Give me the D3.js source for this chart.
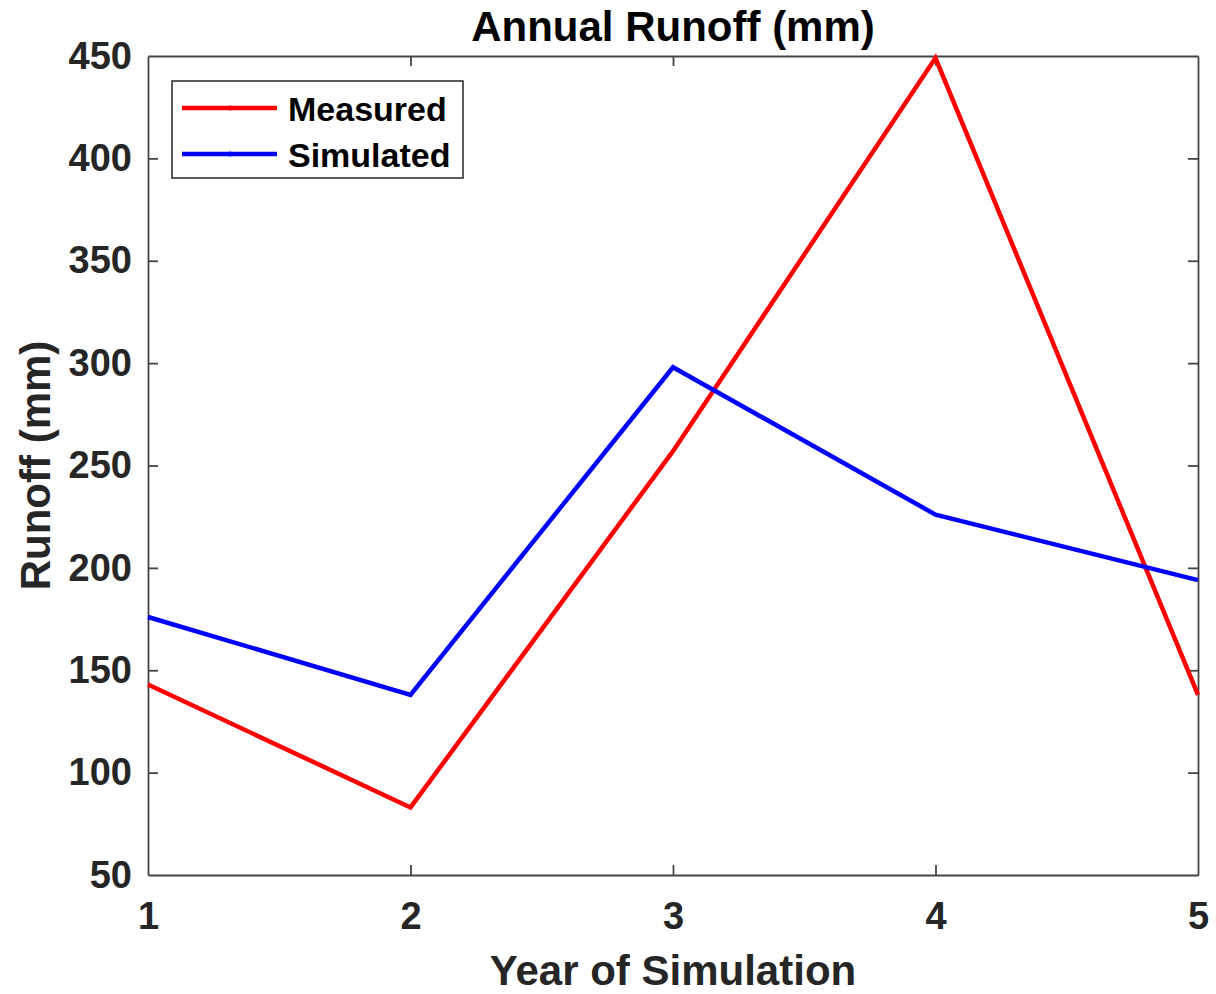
<!DOCTYPE html>
<html>
<head>
<meta charset="utf-8">
<script src="https://cdn.jsdelivr.net/npm/d3@7"></script>
<style>
  body { margin: 0; background: #fff; }
  text { font-family: "Liberation Sans", Arial, sans-serif; font-weight: bold; }
</style>
</head>
<body>
<svg id="chart" width="1216" height="994"></svg>
<script>
// data
const years = [1, 2, 3, 4, 5];
const measured = [143, 83, 257, 449, 138];
const simulated = [176, 138, 298, 226, 194];
const yTicks = [50, 100, 150, 200, 250, 300, 350, 400, 450];
const seriesNames = ['Measured', 'Simulated'];
const seriesColors = ['#ff0000', '#0000ff'];

const svg = d3.select('#chart');
const plotLeft = 148, plotRight = 1198, plotTop = 56, plotBottom = 875;

const x = d3.scaleLinear().domain([1, 5]).range([plotLeft, plotRight]);
const y = d3.scaleLinear().domain([50, 450]).range([plotBottom, plotTop]);

const axisColor = '#262626';
const tickLen = 10;

// axes, MATLAB-style box with inward ticks
const gx = svg.append('g').attr('transform', 'translate(0,' + plotBottom + ')')
  .call(d3.axisBottom(x).tickValues(years).tickFormat(d3.format('d')).tickSizeInner(-tickLen).tickSizeOuter(0).tickPadding(27));
const gxTop = svg.append('g').attr('transform', 'translate(0,' + plotTop + ')')
  .call(d3.axisTop(x).tickValues(years).tickFormat('').tickSizeInner(-tickLen).tickSizeOuter(0));
const gy = svg.append('g').attr('transform', 'translate(' + plotLeft + ',0)')
  .call(d3.axisLeft(y).tickValues(yTicks).tickSizeInner(-tickLen).tickSizeOuter(0).tickPadding(16));
const gyRight = svg.append('g').attr('transform', 'translate(' + plotRight + ',0)')
  .call(d3.axisRight(y).tickValues(yTicks).tickFormat('').tickSizeInner(-tickLen).tickSizeOuter(0));

[gx, gxTop, gy, gyRight].forEach(g => {
  g.select('.domain').attr('stroke', '#444').attr('stroke-width', 1.8);
  g.selectAll('.tick line').attr('stroke', '#444').attr('stroke-width', 1.8);
  g.selectAll('.tick text').attr('fill', axisColor)
    .style('font-size', '38px').style('font-family', '"Liberation Sans", Arial, sans-serif').style('font-weight', 'bold');
});
gx.selectAll('.tick text').attr('dy', '0.71em');
// no tick marks at the box corners
[gx, gxTop].forEach(g => g.selectAll('.tick line').filter(d => d === 1 || d === 5).remove());
[gy, gyRight].forEach(g => g.selectAll('.tick line').filter(d => d === 50 || d === 450).remove());

// lines
const line = d3.line().x((d, i) => x(years[i])).y(d => y(d));
[measured, simulated].forEach((s, i) => {
  svg.append('path').datum(s)
    .attr('fill', 'none')
    .attr('stroke', seriesColors[i])
    .attr('stroke-width', 4.5)
    .attr('stroke-linejoin', 'miter')
    .attr('d', line);
});

// title and labels
svg.append('text').attr('x', (plotLeft + plotRight) / 2).attr('y', 41)
  .attr('text-anchor', 'middle').style('font-size', '42px').attr('fill', '#000')
  .text('Annual Runoff (mm)');
svg.append('text').attr('x', (plotLeft + plotRight) / 2).attr('y', 985)
  .attr('text-anchor', 'middle').style('font-size', '42px').attr('fill', axisColor)
  .text('Year of Simulation');
svg.append('text')
  .attr('transform', 'translate(50,' + (plotTop + plotBottom) / 2 + ') rotate(-90)')
  .attr('text-anchor', 'middle').style('font-size', '42px').attr('fill', axisColor)
  .text('Runoff (mm)');

// legend
const lg = svg.append('g');
lg.append('rect').attr('x', 172).attr('y', 81).attr('width', 291).attr('height', 97)
  .attr('fill', '#fff').attr('stroke', axisColor).attr('stroke-width', 1.5);
seriesNames.forEach((name, i) => {
  const ly = 108 + i * 46;
  lg.append('line').attr('x1', 182).attr('x2', 277).attr('y1', ly).attr('y2', ly)
    .attr('stroke', seriesColors[i]).attr('stroke-width', 4.5);
  lg.append('circle').attr('cx', 230).attr('cy', ly).attr('r', 2.5).attr('fill', seriesColors[i]);
  lg.append('text').attr('x', 288).attr('y', ly).attr('dy', '0.38em')
    .style('font-size', '34px').attr('fill', '#000').text(name);
});
</script>
</body>
</html>
